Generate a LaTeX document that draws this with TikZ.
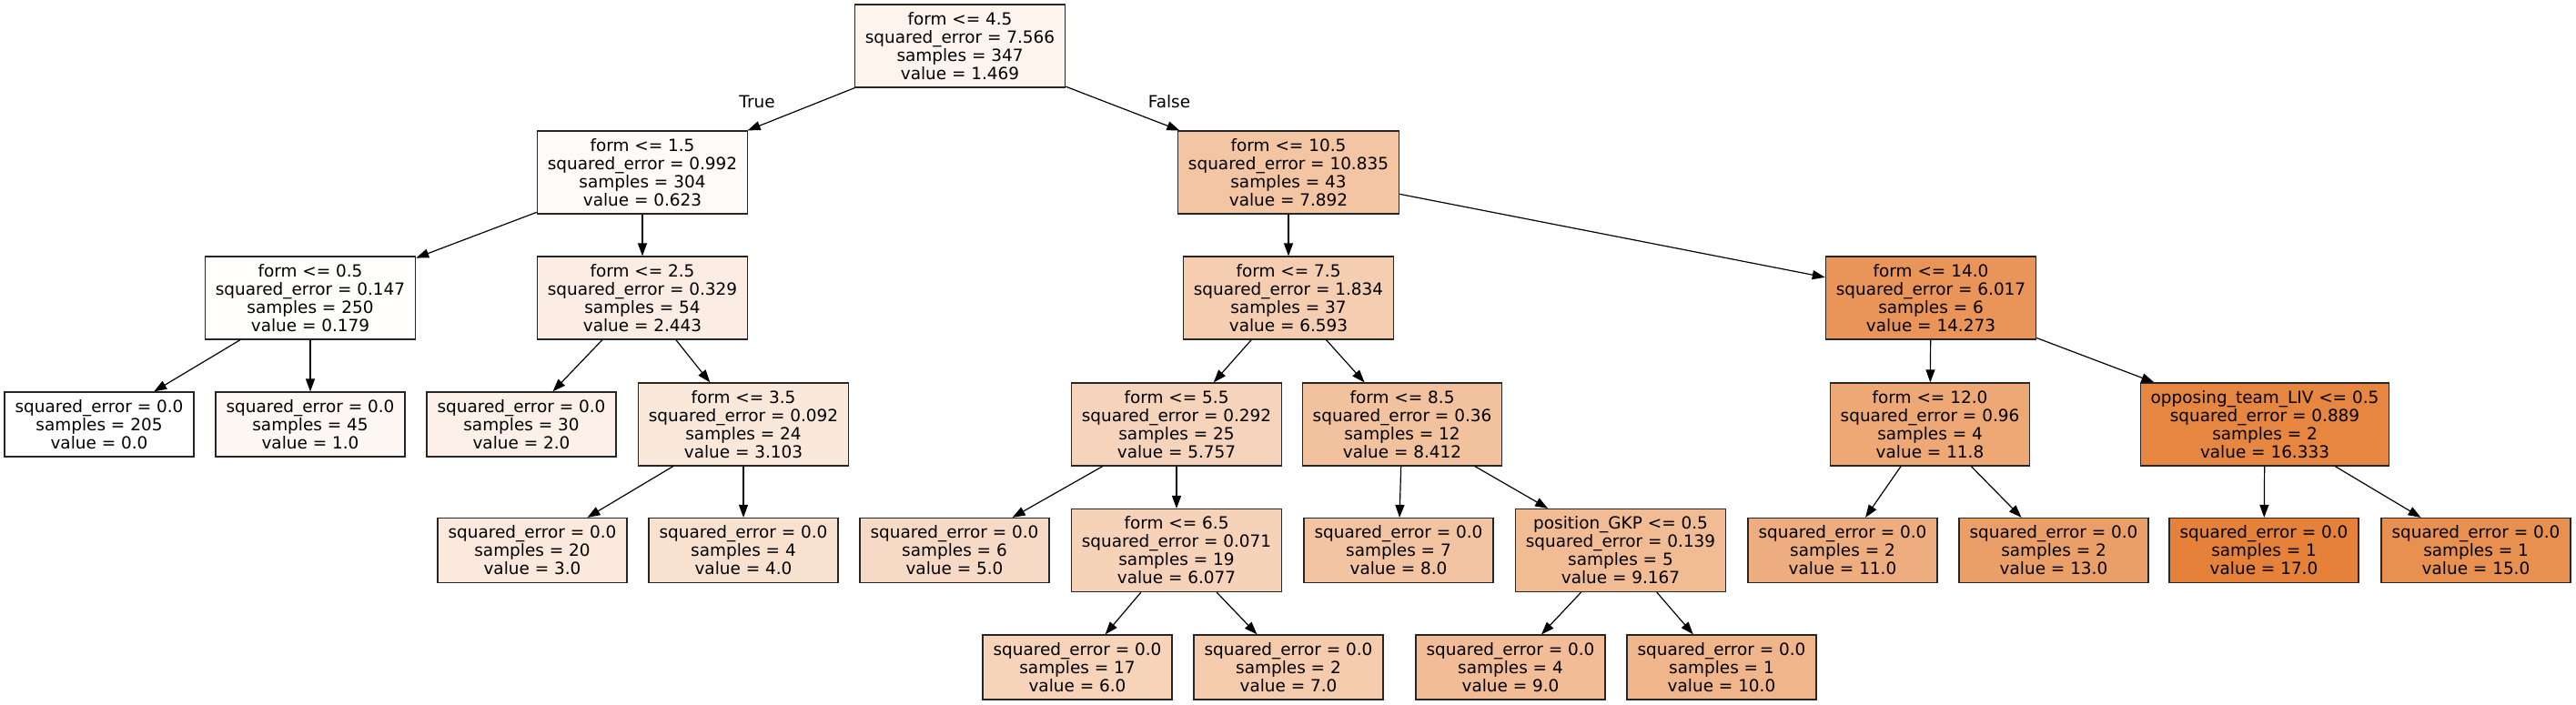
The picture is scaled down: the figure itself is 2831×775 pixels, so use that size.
\documentclass[tikz,border=0pt]{standalone}
\usepackage{fontspec}
\setmainfont{DejaVu Sans}
\usetikzlibrary{arrows.meta}
\definecolor{base}{RGB}{229,129,57}
\tikzset{
  tnode/.style={draw=black!85, line width=0.6pt, rectangle, align=center, inner xsep=5.75pt, inner ysep=0pt,
    font=\fontsize{9.22}{10}\selectfont},
  inner/.style={tnode, minimum height=45.5pt},
  leaf/.style={tnode, minimum height=35.5pt},
  edge/.style={draw=black, line width=0.6pt, -{Triangle[length=7pt,width=5pt]}},
  elabel/.style={font=\fontsize{9.22}{10}\selectfont, inner sep=0pt}
}
\begin{document}
\begin{tikzpicture}[x=0.5pt,y=-0.5pt]
\useasboundingbox (0,0) rectangle (2831,775);
% level 0
\node[inner, fill=base!8.64!white] (root) at (1055,50.5) {form <= 4.5\\squared\_error = 7.566\\samples = 347\\value = 1.469};
% level 1
\node[inner, fill=base!3.66!white] (n1) at (706,189.5) {form <= 1.5\\squared\_error = 0.992\\samples = 304\\value = 0.623};
\node[inner, fill=base!46.42!white] (n4) at (1416,189.5) {form <= 10.5\\squared\_error = 10.835\\samples = 43\\value = 7.892};
% level 2
\node[inner, fill=base!1.05!white] (n2) at (341,327.5) {form <= 0.5\\squared\_error = 0.147\\samples = 250\\value = 0.179};
\node[inner, fill=base!14.37!white] (n3) at (706,327.5) {form <= 2.5\\squared\_error = 0.329\\samples = 54\\value = 2.443};
\node[inner, fill=base!38.78!white] (n5) at (1416,327.5) {form <= 7.5\\squared\_error = 1.834\\samples = 37\\value = 6.593};
\node[inner, fill=base!83.96!white] (n6) at (2122,327.5) {form <= 14.0\\squared\_error = 6.017\\samples = 6\\value = 14.273};
% level 3
\node[leaf, fill=white] (l1) at (109,466.5) {squared\_error = 0.0\\samples = 205\\value = 0.0};
\node[leaf, fill=base!5.88!white] (l2) at (341,466.5) {squared\_error = 0.0\\samples = 45\\value = 1.0};
\node[leaf, fill=base!11.76!white] (l3) at (573,466.5) {squared\_error = 0.0\\samples = 30\\value = 2.0};
\node[inner, fill=base!18.25!white] (n7) at (817,466.5) {form <= 3.5\\squared\_error = 0.092\\samples = 24\\value = 3.103};
\node[inner, fill=base!33.86!white] (n8) at (1293,466.5) {form <= 5.5\\squared\_error = 0.292\\samples = 25\\value = 5.757};
\node[inner, fill=base!49.48!white] (n10) at (1541,466.5) {form <= 8.5\\squared\_error = 0.36\\samples = 12\\value = 8.412};
\node[inner, fill=base!69.41!white] (n12) at (2121,466.5) {form <= 12.0\\squared\_error = 0.96\\samples = 4\\value = 11.8};
\node[inner, fill=base!96.08!white] (n13) at (2489,466.5) {opposing\_team\_LIV <= 0.5\\squared\_error = 0.889\\samples = 2\\value = 16.333};
% level 4
\node[leaf, fill=base!17.65!white] (l4) at (585,605) {squared\_error = 0.0\\samples = 20\\value = 3.0};
\node[leaf, fill=base!23.53!white] (l5) at (817,605) {squared\_error = 0.0\\samples = 4\\value = 4.0};
\node[leaf, fill=base!29.41!white] (l6) at (1049,605) {squared\_error = 0.0\\samples = 6\\value = 5.0};
\node[inner, fill=base!35.75!white] (n9) at (1293,605) {form <= 6.5\\squared\_error = 0.071\\samples = 19\\value = 6.077};
\node[leaf, fill=base!47.06!white] (l9) at (1537,605) {squared\_error = 0.0\\samples = 7\\value = 8.0};
\node[inner, fill=base!53.92!white] (n11) at (1781,605) {position\_GKP <= 0.5\\squared\_error = 0.139\\samples = 5\\value = 9.167};
\node[leaf, fill=base!64.71!white] (l10) at (2025,605) {squared\_error = 0.0\\samples = 2\\value = 11.0};
\node[leaf, fill=base!76.47!white] (l11) at (2257,605) {squared\_error = 0.0\\samples = 2\\value = 13.0};
\node[leaf, fill=base!100!white] (l12) at (2488,605) {squared\_error = 0.0\\samples = 1\\value = 17.0};
\node[leaf, fill=base!88.24!white] (l13) at (2721,605) {squared\_error = 0.0\\samples = 1\\value = 15.0};
% level 5
\node[leaf, fill=base!35.29!white] (l7) at (1184,733.5) {squared\_error = 0.0\\samples = 17\\value = 6.0};
\node[leaf, fill=base!41.18!white] (l8) at (1416,733.5) {squared\_error = 0.0\\samples = 2\\value = 7.0};
\node[leaf, fill=base!52.94!white] (l14) at (1660,733.5) {squared\_error = 0.0\\samples = 4\\value = 9.0};
\node[leaf, fill=base!58.82!white] (l15) at (1892,733.5) {squared\_error = 0.0\\samples = 1\\value = 10.0};
% edge labels
\node[elabel] (ltrue) at (832,112) {True};
\node[elabel] (lfalse) at (1285,112) {False};
% edges
\draw[edge] (root) -- (n1);
\draw[edge] (root) -- (n4);
\draw[edge] (n1) -- (n2);
\draw[edge] (n1) -- (n3);
\draw[edge] (n2) -- (l1);
\draw[edge] (n2) -- (l2);
\draw[edge] (n3) -- (l3);
\draw[edge] (n3) -- (n7);
\draw[edge] (n7) -- (l4);
\draw[edge] (n7) -- (l5);
\draw[edge] (n4) -- (n5);
\draw[edge] (n4) -- (n6);
\draw[edge] (n5) -- (n8);
\draw[edge] (n5) -- (n10);
\draw[edge] (n8) -- (l6);
\draw[edge] (n8) -- (n9);
\draw[edge] (n9) -- (l7);
\draw[edge] (n9) -- (l8);
\draw[edge] (n10) -- (l9);
\draw[edge] (n10) -- (n11);
\draw[edge] (n11) -- (l14);
\draw[edge] (n11) -- (l15);
\draw[edge] (n6) -- (n12);
\draw[edge] (n6) -- (n13);
\draw[edge] (n12) -- (l10);
\draw[edge] (n12) -- (l11);
\draw[edge] (n13) -- (l12);
\draw[edge] (n13) -- (l13);
\end{tikzpicture}
\end{document}
